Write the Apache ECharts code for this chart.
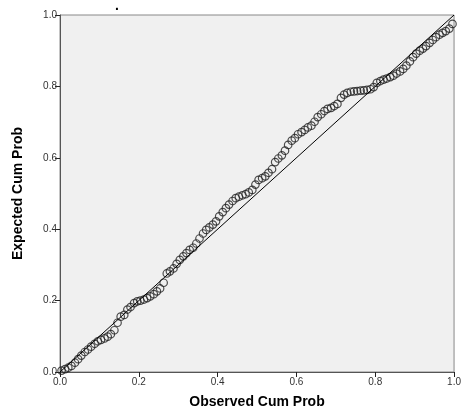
<!DOCTYPE html>
<html><head><meta charset="utf-8">
<script src="https://cdn.jsdelivr.net/npm/echarts@6/dist/echarts.min.js"></script>
<style>html,body{margin:0;padding:0;background:#fff}#c{width:464px;height:414px}</style>
</head><body><div id="c"></div>
<script>
var observed = [0.004,0.013,0.021,0.029,0.038,0.046,0.054,0.063,0.071,0.079,0.088,0.096,0.104,0.113,0.121,0.129,0.138,0.146,0.154,0.163,0.171,0.179,0.188,0.196,0.204,0.213,0.221,0.229,0.238,0.246,0.254,0.263,0.271,0.279,0.288,0.296,0.304,0.313,0.321,0.329,0.338,0.346,0.354,0.363,0.371,0.379,0.388,0.396,0.404,0.413,0.421,0.429,0.438,0.446,0.454,0.463,0.471,0.479,0.488,0.496,0.504,0.513,0.521,0.529,0.538,0.546,0.554,0.563,0.571,0.579,0.588,0.596,0.604,0.613,0.621,0.629,0.638,0.646,0.654,0.663,0.671,0.679,0.688,0.696,0.704,0.713,0.721,0.729,0.738,0.746,0.754,0.763,0.771,0.779,0.788,0.796,0.804,0.813,0.821,0.829,0.838,0.846,0.854,0.863,0.871,0.879,0.888,0.896,0.904,0.913,0.921,0.929,0.938,0.946,0.954,0.963,0.971,0.979,0.988,0.996];
var expected = [0.004,0.008,0.012,0.017,0.026,0.036,0.046,0.056,0.063,0.071,0.079,0.086,0.090,0.094,0.099,0.106,0.117,0.138,0.155,0.160,0.175,0.182,0.193,0.198,0.200,0.203,0.207,0.212,0.218,0.226,0.234,0.250,0.276,0.282,0.290,0.303,0.314,0.324,0.333,0.342,0.348,0.360,0.374,0.388,0.398,0.405,0.413,0.422,0.436,0.448,0.459,0.469,0.479,0.487,0.491,0.495,0.498,0.503,0.510,0.525,0.538,0.543,0.548,0.558,0.568,0.588,0.598,0.607,0.620,0.636,0.648,0.655,0.666,0.672,0.678,0.685,0.690,0.701,0.714,0.722,0.731,0.737,0.740,0.745,0.751,0.768,0.777,0.782,0.785,0.786,0.787,0.788,0.789,0.790,0.792,0.798,0.810,0.815,0.819,0.822,0.826,0.830,0.836,0.842,0.849,0.858,0.870,0.882,0.892,0.900,0.906,0.913,0.922,0.930,0.938,0.945,0.950,0.955,0.962,0.975];
var refLine = [[0,0],[1,1]];
var tickLabels = ['0.0','0.2','0.4','0.6','0.8','1.0'];
var xTitle = 'Observed Cum Prob';
var yTitle = 'Expected Cum Prob';

var pts = observed.map(function(x,i){return [x, expected[i]];});
var chart = echarts.init(document.getElementById('c'), null, {renderer:'canvas'});
var axisCommon = {
  min:0, max:1, interval:0.2,
  axisLine:{show:true, lineStyle:{color:'#555', width:1}},
  axisTick:{show:true, length:5, lineStyle:{color:'#222', width:1}},
  splitLine:{show:false},
  axisLabel:{color:'#333', fontSize:10, fontFamily:'Liberation Sans, Arial', formatter:function(v){return tickLabels[Math.round(v/0.2)];}},
  nameLocation:'middle',
  nameTextStyle:{color:'#000', fontSize:14, fontWeight:'bold', fontFamily:'Liberation Sans, Arial'}
};
chart.setOption({
  animation:false,
  title:{text:'.', left:110, top:-6, textStyle:{fontSize:14, color:'#000', fontWeight:'bold'}},
  grid:{left:60, right:5, top:15, bottom:40, show:true, backgroundColor:'#f0f0f0', borderColor:'#888', borderWidth:1},
  xAxis:Object.assign({}, axisCommon, {type:'value', name:xTitle, nameGap:23, axisLabel:Object.assign({}, axisCommon.axisLabel, {margin:5})}),
  yAxis:Object.assign({}, axisCommon, {type:'value', name:yTitle, nameGap:35, axisLabel:Object.assign({}, axisCommon.axisLabel, {margin:3})}),
  series:[
    {type:'line', data:refLine, symbol:'none', lineStyle:{color:'#000', width:1}, silent:true, z:3},
    {type:'scatter', data:pts, symbol:'circle', symbolSize:7.5,
     itemStyle:{color:'rgba(0,0,0,0)', borderColor:'#222', borderWidth:1.2}, z:2}
  ]
});
</script></body></html>
